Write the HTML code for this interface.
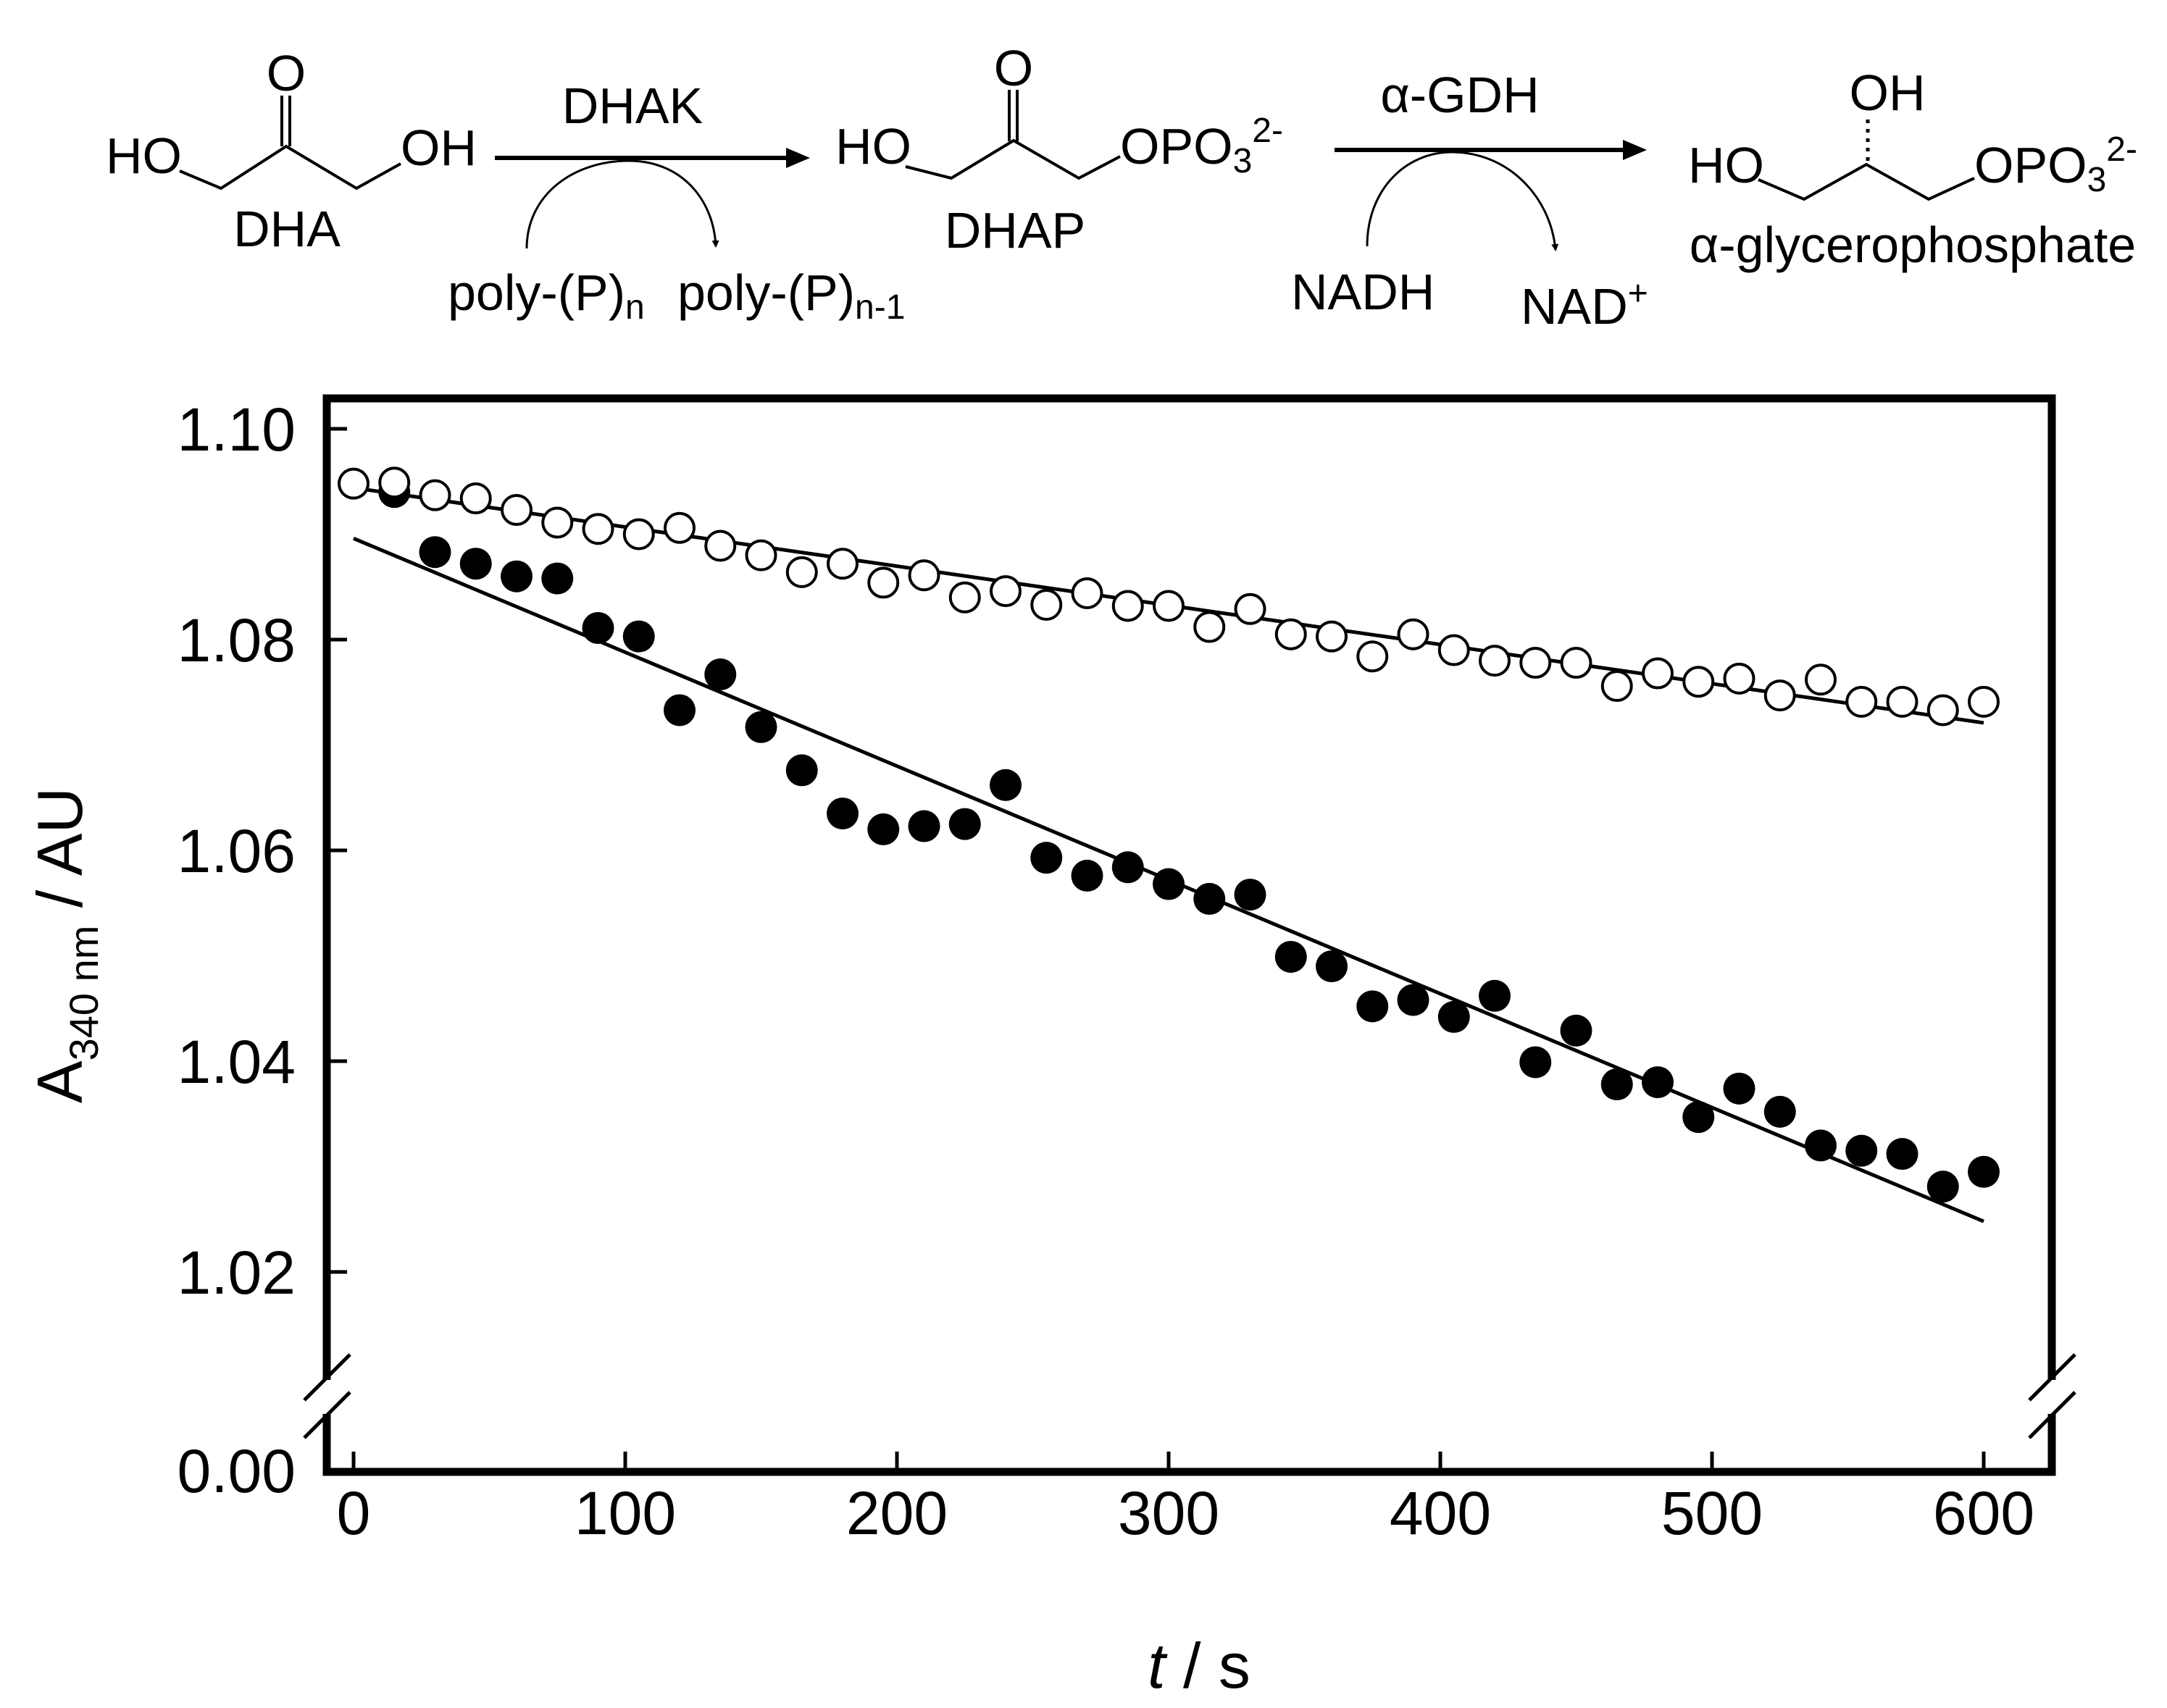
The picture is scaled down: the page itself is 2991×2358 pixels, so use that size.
<!DOCTYPE html>
<html><head><meta charset="utf-8"><style>
html,body{margin:0;padding:0;background:#fff}
svg{display:block}
text{font-family:"Liberation Sans",Arial,sans-serif;fill:#000}
</style></head><body>
<svg id="chart" width="2991" height="2358" viewBox="0 0 2991 2358" xmlns="http://www.w3.org/2000/svg">
<defs>
<marker id="ah" markerWidth="10" markerHeight="10" refX="8" refY="5" orient="auto" markerUnits="userSpaceOnUse" viewBox="0 0 10 10"><path d="M0,0 L10,5 L0,10 z" fill="#000"/></marker>
</defs>
<g id="scheme" font-size="70">
  <g>
    <text x="395" y="125" text-anchor="middle">O</text>
    <line x1="389" y1="132" x2="389" y2="202" stroke="#000" stroke-width="4"/>
    <line x1="400" y1="132" x2="400" y2="202" stroke="#000" stroke-width="4"/>
    <polyline points="248,236 305,260 395,202 492,260 553,226" fill="none" stroke="#000" stroke-width="4"/>
    <text x="146" y="239">HO</text>
    <text x="553" y="228">OH</text>
    <text x="396" y="340" text-anchor="middle">DHA</text>
  </g>
  <g>
    <line x1="683" y1="218" x2="1100" y2="218" stroke="#000" stroke-width="6"/>
    <path d="M1118,218 L1085,204 L1085,232 z" fill="#000"/>
    <text x="873" y="170" text-anchor="middle">DHAK</text>
    <path d="M727,343 C727,270 790,222 868,222 C940,222 985,275 988,340" fill="none" stroke="#000" stroke-width="3" marker-end="url(#ah)"/>
    <text x="618" y="428">poly-(P)<tspan font-size="48" dy="12">n</tspan></text>
    <text x="935" y="428">poly-(P)<tspan font-size="48" dy="12">n-1</tspan></text>
  </g>
  <g>
    <text x="1399" y="118" text-anchor="middle">O</text>
    <line x1="1393" y1="124" x2="1393" y2="195" stroke="#000" stroke-width="4"/>
    <line x1="1404" y1="124" x2="1404" y2="195" stroke="#000" stroke-width="4"/>
    <polyline points="1250,230 1313,246 1399,194 1489,246 1546,216" fill="none" stroke="#000" stroke-width="4"/>
    <text x="1153" y="226">HO</text>
    <text x="1546" y="226">OPO<tspan font-size="48" dy="12">3</tspan><tspan font-size="48" dy="-42">2-</tspan></text>
    <text x="1401" y="342" text-anchor="middle">DHAP</text>
  </g>
  <g>
    <line x1="1842" y1="207" x2="2255" y2="207" stroke="#000" stroke-width="6"/>
    <path d="M2273,207 L2240,193 L2240,221 z" fill="#000"/>
    <text x="2015" y="155" text-anchor="middle">α-GDH</text>
    <path d="M1887,340 C1887,262 1940,210 2004,210 C2080,210 2140,270 2147,345" fill="none" stroke="#000" stroke-width="3" marker-end="url(#ah)"/>
    <text x="1782" y="427">NADH</text>
    <text x="2099" y="447">NAD<tspan font-size="48" dy="-26">+</tspan></text>
  </g>
  <g>
    <text x="2605" y="152" text-anchor="middle">OH</text>
    <line x1="2578" y1="165" x2="2578" y2="225" stroke="#000" stroke-width="5" stroke-dasharray="5,8"/>
    <polyline points="2427,248 2490,275 2576,227 2662,275 2725,246" fill="none" stroke="#000" stroke-width="4"/>
    <text x="2330" y="252">HO</text>
    <text x="2725" y="252">OPO<tspan font-size="48" dy="12">3</tspan><tspan font-size="48" dy="-42">2-</tspan></text>
    <text x="2640" y="362" text-anchor="middle">α-glycerophosphate</text>
  </g>
</g>
<g id="plot"></g>
</svg>
<script>
const tFilled = [15,30,45,60,75,90,105,120,135,150,165,180,195,210,225,240,255,270,285,300,315,330,345,360,375,390,405,420,435,450,465,480,495,510,525,540,555,570,585,600];
const aFilled = [1.0940,1.0883,1.0872,1.0860,1.0858,1.0811,1.0803,1.0733,1.0767,1.0717,1.0676,1.0635,1.0620,1.0623,1.0625,1.0662,1.0593,1.0576,1.0584,1.0568,1.0554,1.0558,1.0499,1.0490,1.0452,1.0458,1.0442,1.0462,1.0399,1.0429,1.0378,1.0380,1.0347,1.0374,1.0352,1.0320,1.0315,1.0312,1.0281,1.0295];
const tOpen = [0,15,30,45,60,75,90,105,120,135,150,165,180,195,210,225,240,255,270,285,300,315,330,345,360,375,390,405,420,435,450,465,480,495,510,525,540,555,570,585,600];
const aOpen = [1.0948,1.0949,1.0937,1.0934,1.0923,1.0911,1.0905,1.0900,1.0906,1.0889,1.0880,1.0864,1.0872,1.0854,1.0861,1.0840,1.0846,1.0833,1.0844,1.0832,1.0832,1.0812,1.0829,1.0805,1.0803,1.0784,1.0805,1.0790,1.0780,1.0778,1.0778,1.0756,1.0768,1.0760,1.0763,1.0747,1.0762,1.0741,1.0741,1.0733,1.0741];
const fitFilledT = [0,600];
const fitFilledA = [1.0896,1.0248];
const fitOpenT = [0,600];
const fitOpenA = [1.0944,1.0721];
const xTicks = [0,100,200,300,400,500,600];
const xTickLabels = ["0","100","200","300","400","500","600"];
const yTicks = [1.10,1.08,1.06,1.04,1.02];
const yTickLabels = ["1.10","1.08","1.06","1.04","1.02"];

const NS = "http://www.w3.org/2000/svg";
const X0 = 488, X600 = 2738, Y110 = 592, Y102 = 1756, YBOT = 2032;
const L = 451, R = 2832, T = 550;
function xs(t){ return X0 + t*(X600-X0)/600; }
function ys(v){ return Y110 + (1.10 - v)*(Y102-Y110)/0.08; }
const g = document.getElementById('plot');
function mk(tag, attrs, parent){
  const e = document.createElementNS(NS, tag);
  for (const k in attrs) e.setAttribute(k, attrs[k]);
  (parent||g).appendChild(e);
  return e;
}
let e;
e = mk('path',{d:`M${L},1905 L${L},${T} L${R},${T} L${R},1905`,fill:'none',stroke:'#000','stroke-width':11});


e = mk('path',{d:`M${L},1952 L${L},${YBOT} L${R},${YBOT} L${R},1952`,fill:'none',stroke:'#000','stroke-width':11});


[L,R].forEach((ax,i)=>{
  const s1 = mk('line',{x1:ax-31,y1:1933,x2:ax+32,y2:1870,stroke:'#000','stroke-width':5});
  
  
  const s2 = mk('line',{x1:ax-31,y1:1985,x2:ax+32,y2:1922,stroke:'#000','stroke-width':5});
  
  
});
yTicks.forEach((v,i)=>{
  const y = ys(v);
  const tk = mk('line',{x1:L,y1:y,x2:L+28,y2:y,stroke:'#000','stroke-width':5});
  
  
  const lb = mk('text',{x:408,y:y+30,'text-anchor':'end','font-size':84});
  lb.textContent = yTickLabels[i];
  
  
});
e = mk('text',{x:408,y:YBOT+28,'text-anchor':'end','font-size':84});
e.textContent = "0.00";


xTicks.forEach((t,i)=>{
  const x = xs(t);
  const tk = mk('line',{x1:x,y1:YBOT,x2:x,y2:YBOT-28,stroke:'#000','stroke-width':5});
  
  
  const lb = mk('text',{x:x,y:2118,'text-anchor':'middle','font-size':84});
  lb.textContent = xTickLabels[i];
  
  
});
e = mk('text',{x:1655,y:2330,'text-anchor':'middle','font-size':88});
e.innerHTML = '<tspan font-style="italic">t</tspan> / s';


e = mk('text',{x:0,y:0,'text-anchor':'middle','font-size':88,transform:'translate(113,1305) rotate(-90)'});
e.innerHTML = 'A<tspan font-size="56" dy="22">340 nm</tspan><tspan dy="-22"> / AU</tspan>';


e = mk('line',{x1:xs(fitFilledT[0]),y1:ys(fitFilledA[0]),x2:xs(fitFilledT[1]),y2:ys(fitFilledA[1]),stroke:'#000','stroke-width':5});


e = mk('line',{x1:xs(fitOpenT[0]),y1:ys(fitOpenA[0]),x2:xs(fitOpenT[1]),y2:ys(fitOpenA[1]),stroke:'#000','stroke-width':5});


tFilled.forEach((t,i)=>{
  const c = mk('circle',{cx:xs(t),cy:ys(aFilled[i]),r:22,fill:'#000'});
  
  
});
tOpen.forEach((t,i)=>{
  const c = mk('circle',{cx:xs(t),cy:ys(aOpen[i]),r:20,fill:'#fff',stroke:'#000','stroke-width':4});
  
  
});
</script>
</body></html>
